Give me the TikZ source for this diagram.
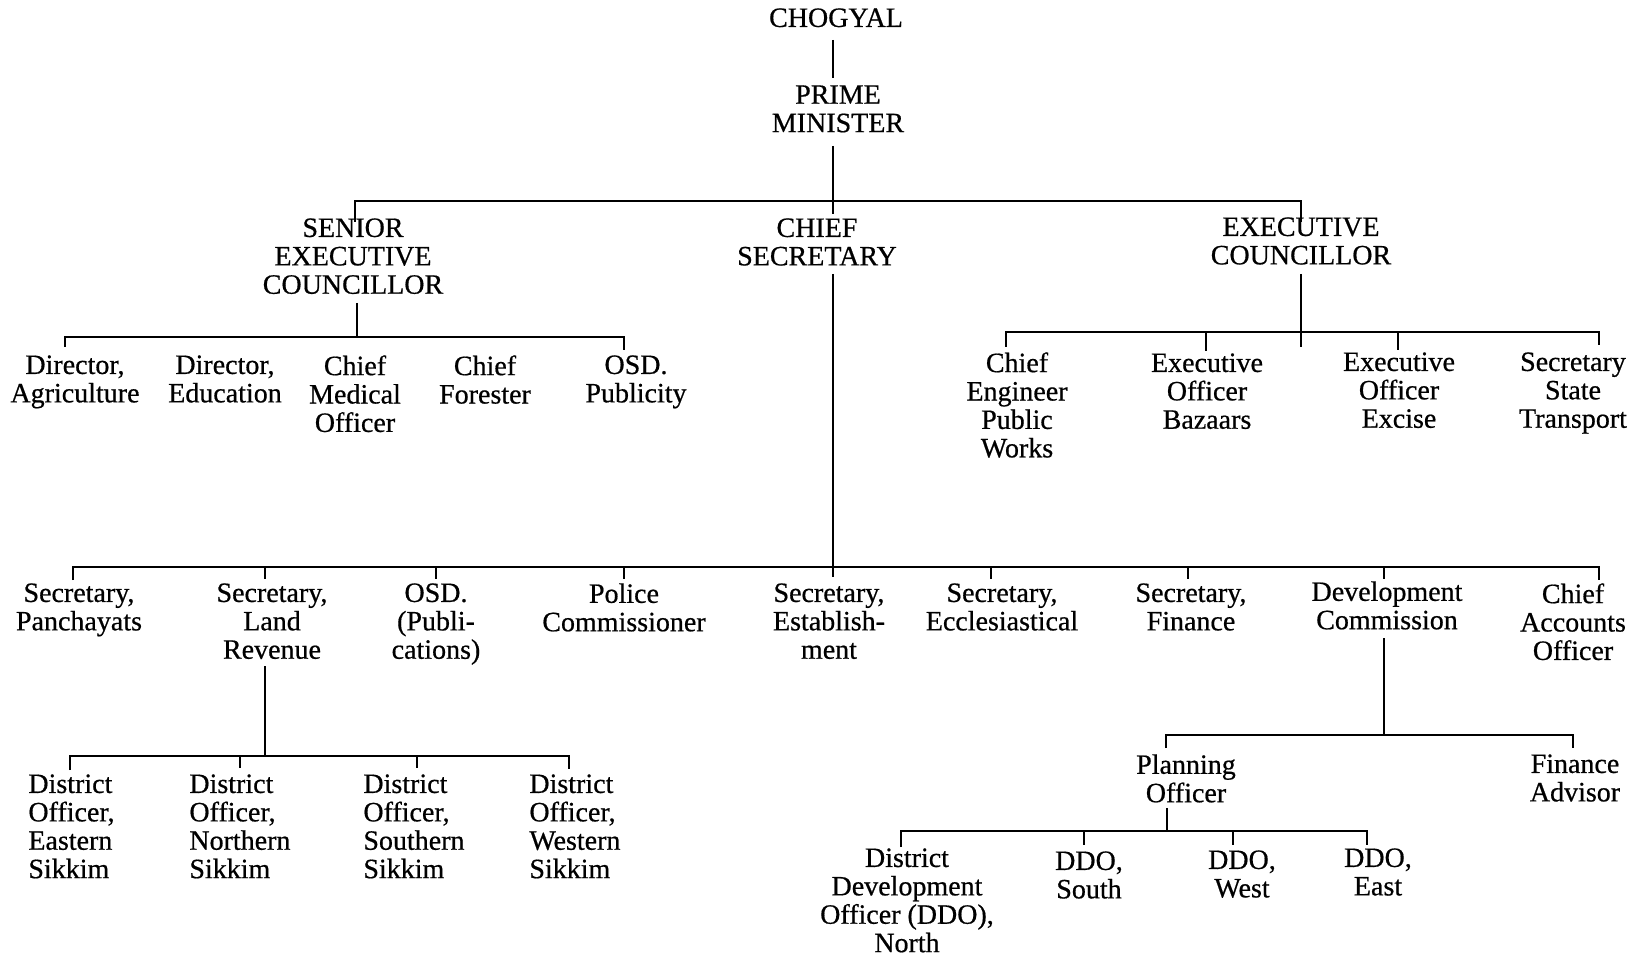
\documentclass[tikz,border=0pt]{standalone}
\usepackage{fontspec}
\newfontfamily\lblfont[FakeBold=0.6]{Liberation Serif}
\tikzset{
  lbl/.style={font=\lblfont\fontsize{14}{14.2}\selectfont, align=center, inner sep=0pt, anchor=north},
  lbll/.style={font=\lblfont\fontsize{14}{14.2}\selectfont, align=left, inner sep=0pt, anchor=north west},
  conn/.style={line width=1pt, line join=miter}
}
\begin{document}
\begin{tikzpicture}[x=0.5pt,y=-0.5pt]
\useasboundingbox (0,0) rectangle (1639,957);
% ---------- level 0 ----------
\node[lbl] (chog) at (836,8) {CHOGYAL};
\node[lbl] (pm) at (838,85) {PRIME\\MINISTER};
\coordinate (c1a) at (833,40);
\coordinate (c1b) at (833,78);
\draw[conn] (c1a) -- (c1b);
% ---------- level 1 ----------
\node[lbl] (sec) at (353,218) {SENIOR\\EXECUTIVE\\COUNCILLOR};
\node[lbl] (cs) at (817,218) {CHIEF\\SECRETARY};
\node[lbl] (ec) at (1301,217) {EXECUTIVE\\COUNCILLOR};
\coordinate (pma) at (833,146);
\coordinate (pmb) at (833,214);
\coordinate (t0L) at (355,222);
\coordinate (t0l) at (355,201);
\coordinate (t0r) at (1301,201);
\coordinate (t0R) at (1301,222);
\draw[conn] (pma) -- (pmb);
\draw[conn] (t0L) -- (t0l) -- (t0r) -- (t0R);
% ---------- senior executive councillor ----------
\node[lbl] (dag) at (75,355) {Director,\\Agriculture};
\node[lbl] (ded) at (225,355) {Director,\\Education};
\node[lbl] (cmo) at (355,355) {Chief\\Medical\\Officer};
\node[lbl] (cfo) at (485,355) {Chief\\Forester};
\node[lbl] (osd) at (636,355) {OSD.\\Publicity};
\coordinate (s1a) at (357,303);
\coordinate (s1b) at (357,337);
\coordinate (s1L) at (65,347);
\coordinate (s1l) at (65,337);
\coordinate (s1r) at (624,337);
\coordinate (s1R) at (624,350);
\draw[conn] (s1a) -- (s1b);
\draw[conn] (s1L) -- (s1l) -- (s1r) -- (s1R);
% ---------- executive councillor ----------
\node[lbl] (cepw) at (1017,352) {Chief\\Engineer\\Public\\Works};
\node[lbl] (eob) at (1207,353) {Executive\\Officer\\Bazaars};
\node[lbl] (eoe) at (1399,352) {Executive\\Officer\\Excise};
\node[lbl] (sst) at (1573,352) {Secretary\\State\\Transport};
\coordinate (e1a) at (1301,274);
\coordinate (e1b) at (1301,347);
\coordinate (e1L) at (1006,347);
\coordinate (e1l) at (1006,332);
\coordinate (e1r) at (1599,332);
\coordinate (e1R) at (1599,345);
\coordinate (e2a) at (1206,332);
\coordinate (e2b) at (1206,351);
\coordinate (e3a) at (1398,332);
\coordinate (e3b) at (1398,350);
\draw[conn] (e1a) -- (e1b);
\draw[conn] (e1L) -- (e1l) -- (e1r) -- (e1R);
\draw[conn] (e2a) -- (e2b);
\draw[conn] (e3a) -- (e3b);
% ---------- chief secretary ----------
\node[lbl] (spa) at (79,583) {Secretary,\\Panchayats};
\node[lbl] (slr) at (272,583) {Secretary,\\Land\\Revenue};
\node[lbl] (osp) at (436,583) {OSD.\\(Publi-\\cations)};
\node[lbl] (pco) at (624,583) {Police\\Commissioner};
\node[lbl] (ses) at (829,583) {Secretary,\\Establish-\\ment};
\node[lbl] (sec2) at (1002,583) {Secretary,\\Ecclesiastical};
\node[lbl] (sfi) at (1191,583) {Secretary,\\Finance};
\node[lbl] (dco) at (1387,581) {Development\\Commission};
\node[lbl] (cao) at (1573,583) {Chief\\Accounts\\Officer};
\coordinate (k0a) at (833,274);
\coordinate (k0b) at (833,577);
\coordinate (kL) at (73,580);
\coordinate (kl) at (73,567);
\coordinate (kr) at (1599,567);
\coordinate (kR) at (1599,580);
\draw[conn] (k0a) -- (k0b);
\draw[conn] (kL) -- (kl) -- (kr) -- (kR);
\foreach \n/\xx in {k1/265,k2/436,k3/624,k4/991,k5/1188,k6/1384}{
  \coordinate (\n a) at (\xx,567);
  \coordinate (\n b) at (\xx,579);
  \draw[conn] (\n a) -- (\n b);
}
% ---------- land revenue ----------
\node[lbll] (doe) at (28,774) {District\\Officer,\\Eastern\\Sikkim};
\node[lbll] (don) at (189,774) {District\\Officer,\\Northern\\Sikkim};
\node[lbll] (dos) at (363,774) {District\\Officer,\\Southern\\Sikkim};
\node[lbll] (dow) at (529,774) {District\\Officer,\\Western\\Sikkim};
\coordinate (l1a) at (265,666);
\coordinate (l1b) at (265,756);
\coordinate (lL) at (70,770);
\coordinate (ll) at (70,756);
\coordinate (lr) at (569,756);
\coordinate (lR) at (569,769);
\coordinate (l2a) at (240,756);
\coordinate (l2b) at (240,768);
\coordinate (l3a) at (417,756);
\coordinate (l3b) at (417,768);
\draw[conn] (l1a) -- (l1b);
\draw[conn] (lL) -- (ll) -- (lr) -- (lR);
\draw[conn] (l2a) -- (l2b);
\draw[conn] (l3a) -- (l3b);
% ---------- development commission ----------
\node[lbl] (plo) at (1186,754) {Planning\\Officer};
\node[lbl] (fad) at (1575,754) {Finance\\Advisor};
\coordinate (d1a) at (1384,638);
\coordinate (d1b) at (1384,735);
\coordinate (dL) at (1166,748);
\coordinate (dl) at (1166,735);
\coordinate (dr) at (1573,735);
\coordinate (dR) at (1573,748);
\draw[conn] (d1a) -- (d1b);
\draw[conn] (dL) -- (dl) -- (dr) -- (dR);
% ---------- planning officer ----------
\node[lbl] (ddn) at (907,848) {District\\Development\\Officer (DDO),\\North};
\node[lbl] (dds) at (1089,851) {DDO,\\South};
\node[lbl] (ddw) at (1242,850) {DDO,\\West};
\node[lbl] (dde) at (1378,848) {DDO,\\East};
\coordinate (p1a) at (1167,808);
\coordinate (p1b) at (1167,831);
\coordinate (pL) at (901,847);
\coordinate (pl) at (901,831);
\coordinate (pr) at (1367,831);
\coordinate (pR) at (1367,845);
\coordinate (p2a) at (1084,831);
\coordinate (p2b) at (1084,845);
\coordinate (p3a) at (1233,831);
\coordinate (p3b) at (1233,845);
\draw[conn] (p1a) -- (p1b);
\draw[conn] (pL) -- (pl) -- (pr) -- (pR);
\draw[conn] (p2a) -- (p2b);
\draw[conn] (p3a) -- (p3b);
\end{tikzpicture}
\end{document}
